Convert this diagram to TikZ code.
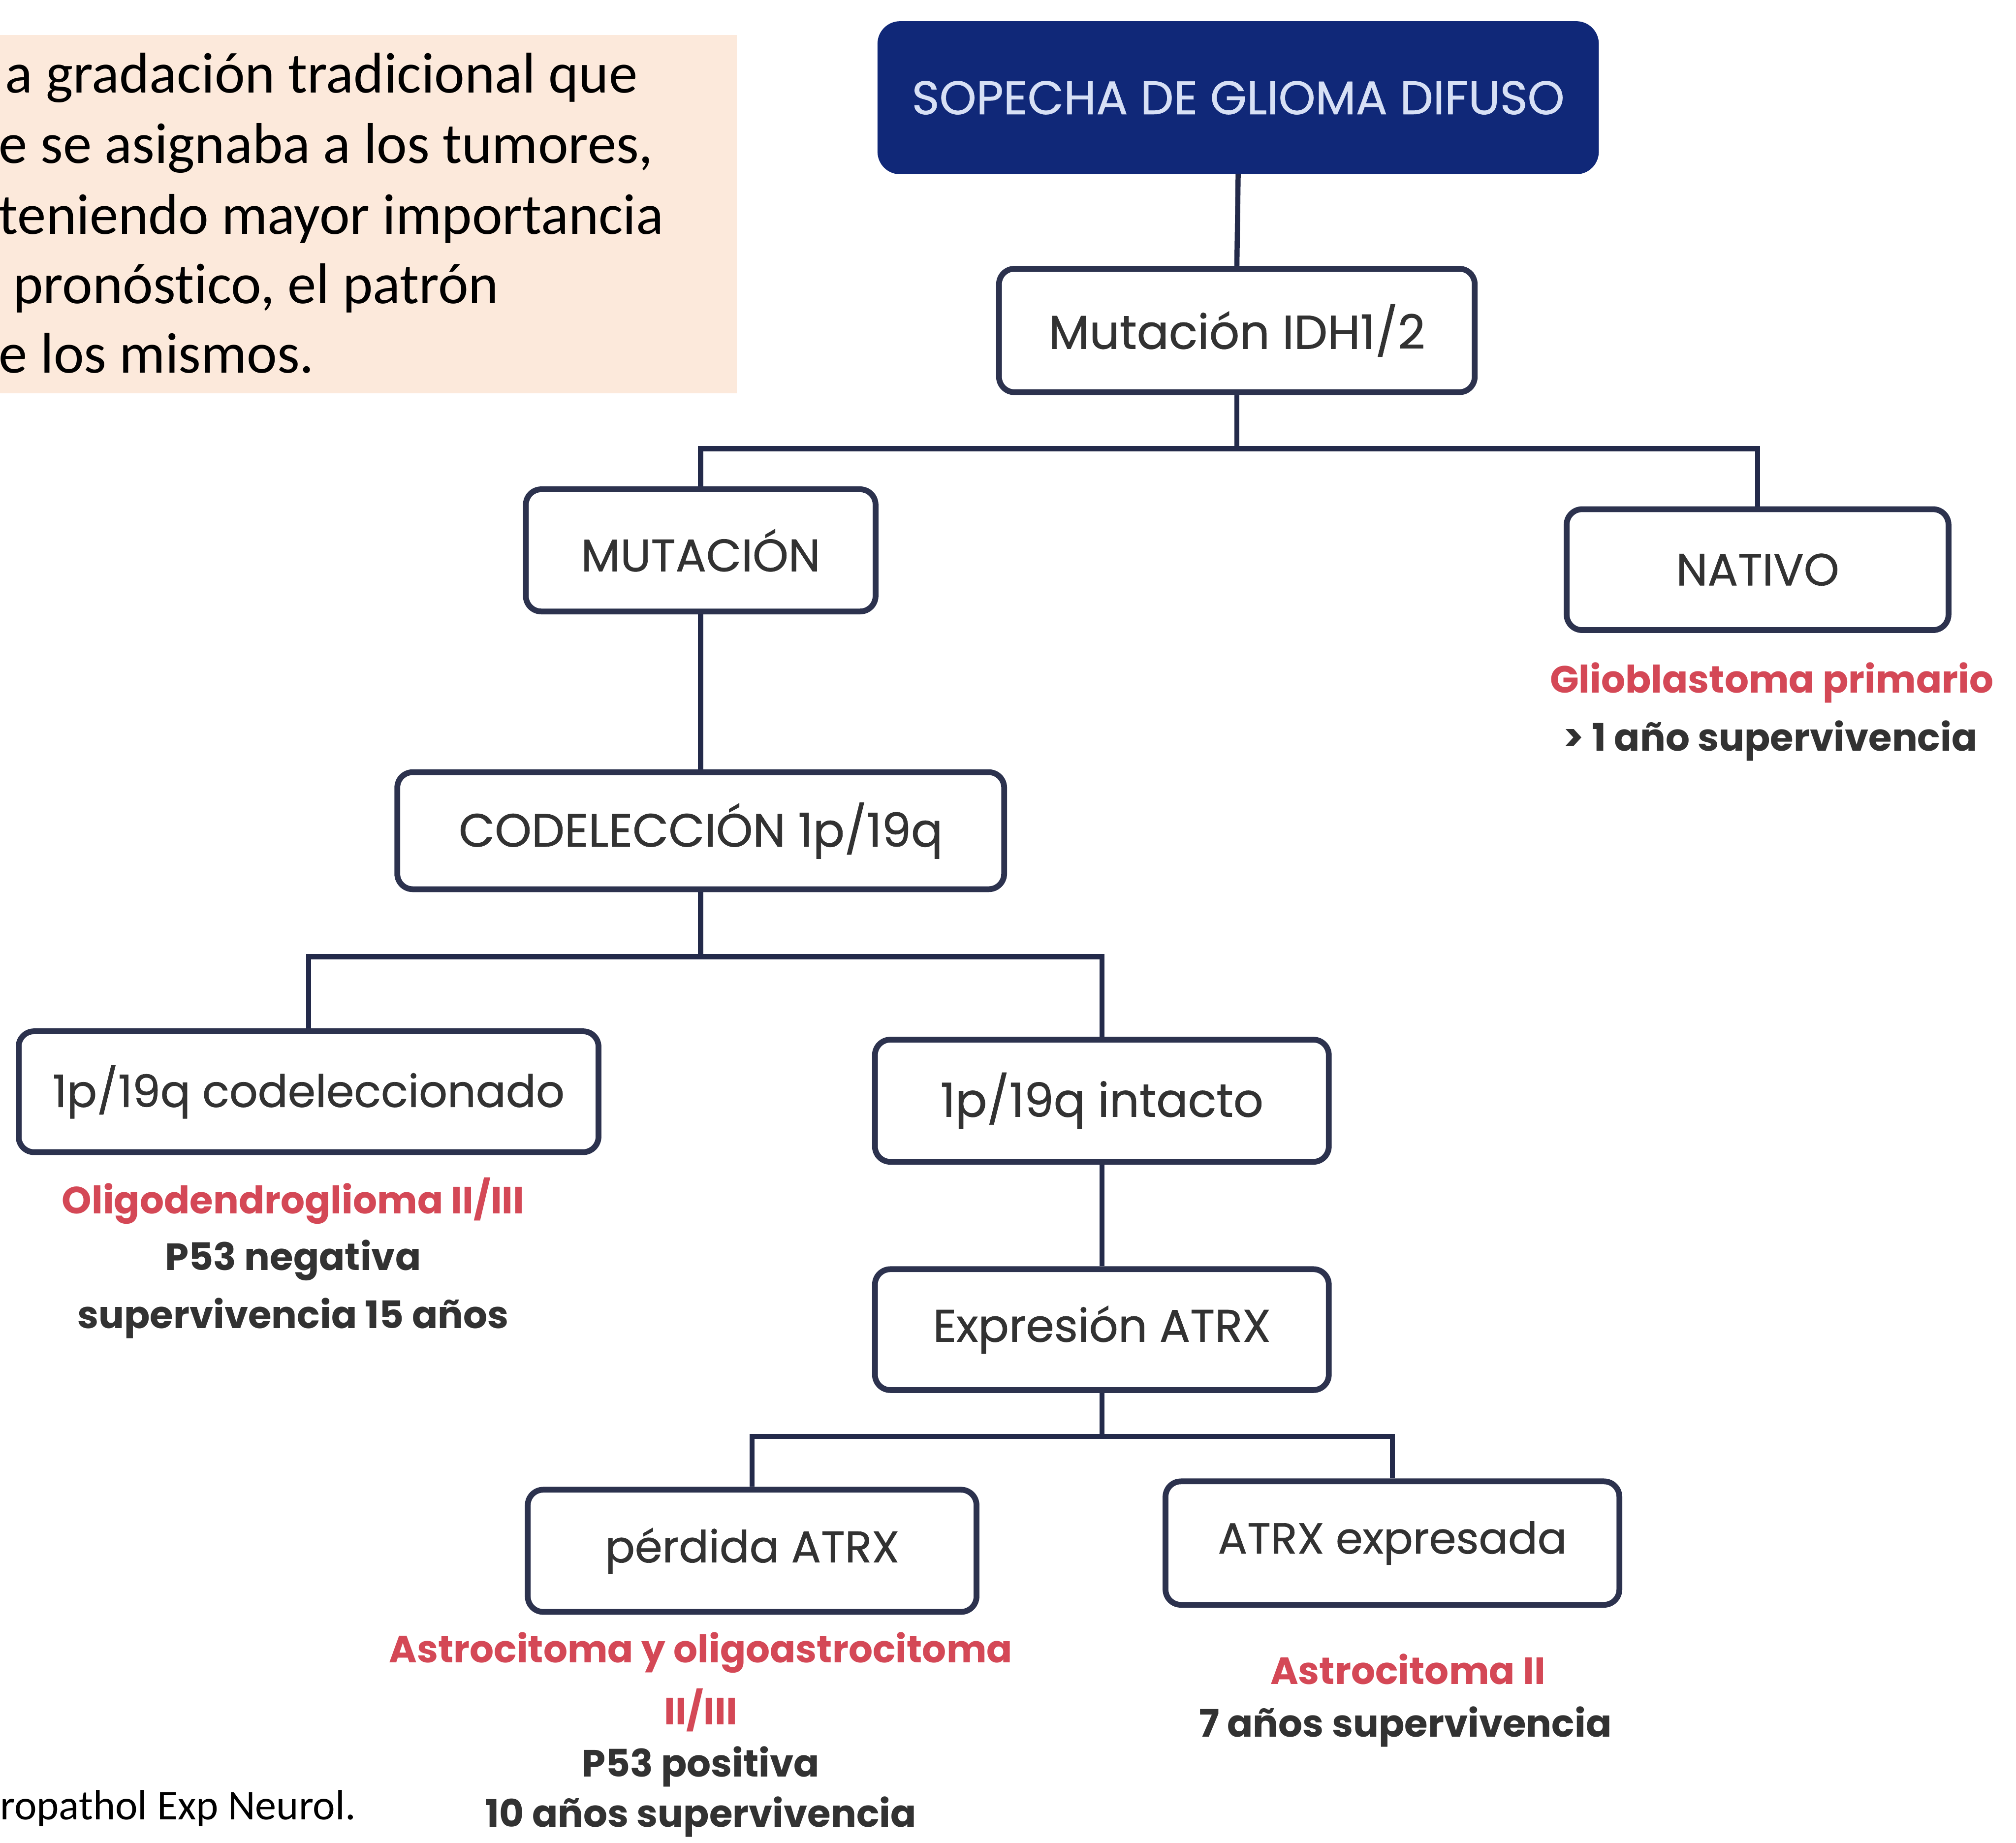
\documentclass[tikz,border=0pt]{standalone}
\usepackage{fontspec}
\setmainfont{Carlito}[Ligatures=NoCommon]
\newfontfamily\dgfont[FakeBold=0.8]{Poppins}
\newfontfamily\lbfont{Poppins}
\definecolor{peach}{RGB}{252,233,219}
\definecolor{navy}{RGB}{16,40,120}
\definecolor{boxline}{RGB}{44,50,78}
\definecolor{conline}{RGB}{35,42,74}
\definecolor{redlab}{RGB}{212,72,86}
\definecolor{darktxt}{RGB}{50,50,50}
\definecolor{toptxt}{RGB}{215,224,245}
\tikzset{
  flowbox/.style={draw=boxline, line width=4.5pt, rounded corners=12pt, fill=white,
    inner sep=0pt, font=\dgfont\fontsize{35}{40}\selectfont, text=darktxt},
  fs/.style={font=\dgfont\fontsize{#1}{40}\selectfont},
  topbox/.style={fill=navy, draw=navy, line width=3pt, rounded corners=16pt, inner sep=0pt,
    font=\dgfont\fontsize{36.5}{42}\selectfont, text=toptxt},
  conn/.style={draw=conline, line width=4pt},
  redtxt/.style={font=\lbfont\bfseries\fontsize{29.5}{34}\selectfont, text=redlab, inner sep=0pt},
  blktxt/.style={font=\lbfont\bfseries\fontsize{29.5}{34}\selectfont, text=darktxt, inner sep=0pt},
  sidetxt/.style={anchor=base west, inner sep=0pt, font=\fontsize{44.7}{55}\selectfont, text=black}
}
\begin{document}
\begin{tikzpicture}[x=1pt,y=-1pt]
\useasboundingbox (0,0) rectangle (1568,1433);
\fill[white] (0,0) rectangle (1568,1433);
% side text panel
\fill[peach] (0,27) rectangle (573,306);
\node[sidetxt] (s1) at (4,72) {a gradación tradicional que};
\node[sidetxt] (s2) at (-1,127) {e se asignaba a los tumores,};
\node[sidetxt] (s3) at (-1,182) {teniendo mayor importancia};
\node[sidetxt] (s4) at (10,236) {pronóstico, el patrón};
\node[sidetxt] (s5) at (-1,290) {e los mismos.};
\node[anchor=base west, inner sep=0pt, font=\fontsize{33}{40}\selectfont] (ref) at (0,1415) {ropathol Exp Neurol.};
% boxes
\node[topbox, minimum width=558pt, minimum height=116pt] (top) at (963,76) {SOPECHA DE GLIOMA DIFUSO};
\node[flowbox, fs=36.8, minimum width=370pt, minimum height=96pt] (idh) at (962,257) {Mutación IDH1/2};
\node[flowbox, fs=35.4, minimum width=272pt, minimum height=95pt] (mut) at (545,428) {MUTACIÓN};
\node[flowbox, fs=35, minimum width=297pt, minimum height=94pt] (nat) at (1367,443) {NATIVO};
\node[flowbox, fs=36.3, minimum width=472pt, minimum height=91pt] (cod) at (545,646) {CODELECCIÓN 1p/19q};
\node[flowbox, fs=34.6, minimum width=451pt, minimum height=94pt] (cdl) at (240,849) {1p/19q codeleccionado};
\node[flowbox, fs=36.4, minimum width=353pt, minimum height=95pt] (int) at (857,856) {1p/19q intacto};
\node[flowbox, fs=35.4, minimum width=353pt, minimum height=94pt] (exp) at (857,1034) {Expresión ATRX};
\node[flowbox, fs=34.4, minimum width=349pt, minimum height=95pt] (per) at (585,1206) {pérdida ATRX};
\node[flowbox, fs=33.8, minimum width=353pt, minimum height=96pt] (atx) at (1083,1200) {ATRX expresada};
% result labels
\node[redtxt] (r1) at (1378,531) {Glioblastoma primario};
\node[blktxt] (b1) at (1377,576) {> 1 año supervivencia};
\node[redtxt] (r2) at (228,934) {Oligodendroglioma II/III};
\node[blktxt] (b2) at (228,980) {P53 negativa};
\node[blktxt] (b3) at (228,1025) {supervivencia 15 años};
\node[redtxt] (r3) at (545,1285) {Astrocitoma y oligoastrocitoma};
\node[redtxt] (r4) at (545,1330) {II/III};
\node[blktxt] (b4) at (545,1374) {P53 positiva};
\node[blktxt] (b5) at (545,1413) {10 años supervivencia};
\node[redtxt] (r5) at (1095,1298) {Astrocitoma II};
\node[blktxt] (b6) at (1093,1343) {7 años supervivencia};
% connectors
\coordinate (j1) at (962,349);
\coordinate (j2) at (545,744);
\coordinate (j3) at (857,1117);
\draw[conn] (top.south) -- (idh.north);
\draw[conn] (idh.south) -- (j1);
\draw[conn] (j1) -| (mut.north);
\draw[conn] (j1) -| (nat.north);
\draw[conn] (mut.south) -- (cod.north);
\draw[conn] (cod.south) -- (j2);
\draw[conn] (j2) -| (cdl.north);
\draw[conn] (j2) -| (int.north);
\draw[conn] (int.south) -- (exp.north);
\draw[conn] (exp.south) -- (j3);
\draw[conn] (j3) -| (per.north);
\draw[conn] (j3) -| (atx.north);
\end{tikzpicture}
\end{document}
